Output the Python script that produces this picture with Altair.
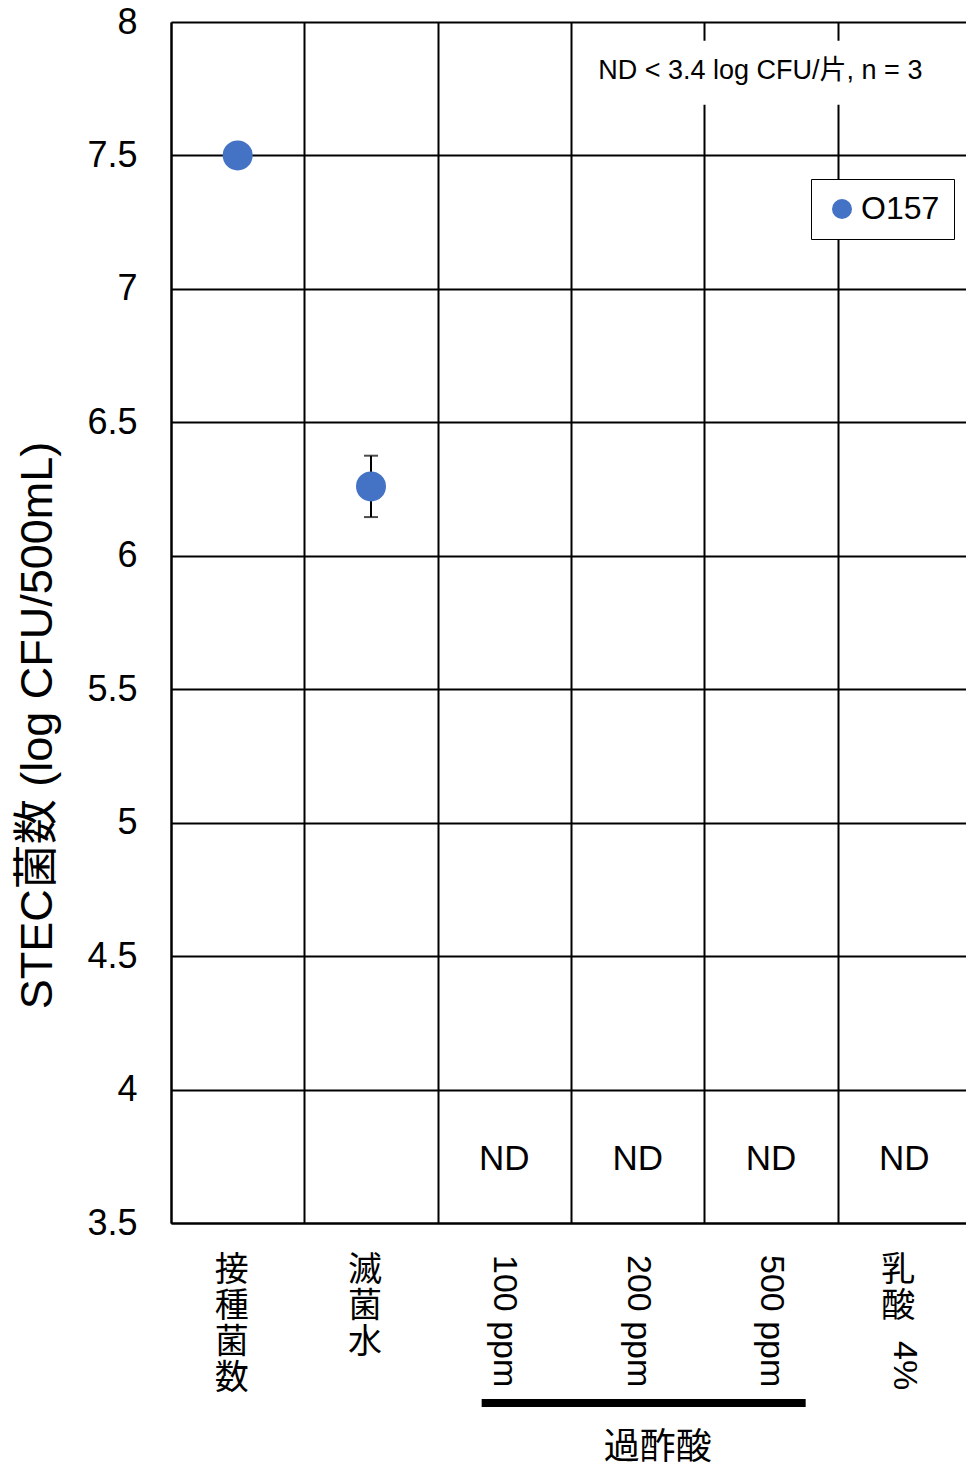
import altair as alt
import pandas as pd

FONT = "Liberation Sans, Noto Sans CJK JP"

# --- data -----------------------------------------------------------------
categories = ["接種菌数", "滅菌水", "過酢酸 100 ppm", "過酢酸 200 ppm", "過酢酸 500 ppm", "乳酸 4%"]
upright_part = ["接種菌数", "滅菌水", "", "", "", "乳酸"]      # written top-to-bottom, glyphs upright
rotated_part = ["", "", "100 ppm", "200 ppm", "500 ppm", "4%"]  # written sideways (rotated 90°)
o157_mean = [7.5, 6.26, None, None, None, None]
o157_sd = [0.0, 0.115, None, None, None, None]
not_detected = [False, False, True, True, True, True]
series_name = "O157"
nd_label_level = 3.74
group_label = "過酢酸"
group_first, group_last = 2, 4
y_ticks = [3.5, 4, 4.5, 5, 5.5, 6, 6.5, 7, 7.5, 8]
detect_note = "ND < 3.4 log CFU/片, n = 3"
y_title = "STEC菌数 (log CFU/500mL)"

# --- layout constants -------------------------------------------------------
W, H = 795, 1201
LINE = 36          # line pitch of vertically stacked glyphs
LABEL_TOP = H + 31 # top of the category labels

df = pd.DataFrame({
    "pos": [i + 0.5 for i in range(len(categories))],
    "category": categories,
    "upright": ["\n".join(s) for s in upright_part],
    "rotated": rotated_part,
    "mean": o157_mean,
    "sd": o157_sd,
    "nd": not_detected,
    "series": series_name,
})
df["lo"] = df["mean"] - df["sd"]
df["hi"] = df["mean"] + df["sd"]
df["nd_text"] = ["ND" if f else "" for f in not_detected]
df["nd_level"] = nd_label_level
df["rot_top"] = [LABEL_TOP + 1 + (len(u) * LINE + 14 if u else 0) for u in upright_part]

x_scale = alt.Scale(domain=[0, 6], range=[0, 800], nice=False, zero=False)
y_scale = alt.Scale(domain=[3.5, 8], nice=False, zero=False)

x_axis = alt.Axis(values=[0, 1, 2, 3, 4, 5], labels=False, ticks=False, title=None,
                  grid=True, gridColor="black", gridWidth=2, gridOpacity=1,
                  domain=True, domainColor="black", domainWidth=2)
y_axis = alt.Axis(values=y_ticks, format="~g", labelFontSize=36, labelFont=FONT,
                  labelColor="black", labelPadding=34, ticks=False, tickSize=0,
                  grid=True, gridColor="black", gridWidth=2, gridOpacity=1,
                  domain=True, domainColor="black", domainWidth=2,
                  title=y_title, titleFont=FONT, titleFontSize=45, titleFontWeight="normal",
                  titleColor="black", titleAngle=270, titleX=-134, titleY=703,
                  titleAlign="center", titleBaseline="middle")


def X(field="pos"):
    return alt.X(f"{field}:Q", scale=x_scale, axis=x_axis)


def Y(field):
    return alt.Y(f"{field}:Q", scale=y_scale, axis=y_axis)


base = alt.Chart(df)

# error bar: stem and caps
err = base.transform_filter("datum.sd > 0")
stem = err.mark_rule(color="black", strokeWidth=2).encode(x=X(), y=Y("lo"), y2="hi:Q")
cap_lo = err.mark_tick(color="black", orient="horizontal", size=14, thickness=2).encode(x=X(), y=Y("lo"))
cap_hi = err.mark_tick(color="black", orient="horizontal", size=14, thickness=2).encode(x=X(), y=Y("hi"))

points = base.transform_filter("isValid(datum.mean)").mark_circle(size=900, opacity=1).encode(
    x=X(), y=Y("mean"),
    color=alt.Color("series:N", scale=alt.Scale(range=["#4472C4"]),
                    legend=alt.Legend(title=None, orient="none", legendX=640, legendY=157,
                                      fillColor="white", strokeColor="black", padding=14,
                                      symbolType="circle", symbolSize=400, symbolOffset=1,
                                      symbolStrokeWidth=0, symbolOpacity=1,
                                      labelFont=FONT, labelFontSize=32, labelColor="black",
                                      labelOffset=3)),
)

nd_text = base.transform_filter("datum.nd").mark_text(
    font=FONT, fontSize=35, color="black", baseline="middle", align="center"
).encode(x=X(), y=Y("nd_level"), text="nd_text:N")

# note box at the top right
note_df = pd.DataFrame({"x": [4.42], "y": [7.815], "x0": [3.1], "x1": [5.8],
                        "y0": [7.69], "y1": [7.93], "text": [detect_note]})
note_bg = alt.Chart(note_df).mark_rect(color="white").encode(
    x=X("x0"), x2="x1:Q", y=Y("y0"), y2="y1:Q")
note_txt = alt.Chart(note_df).mark_text(
    font=FONT, fontSize=27, color="black", baseline="middle", align="center"
).encode(x=X("x"), y=Y("y"), text="text:N")

# category labels under the plot
upright_lbl = base.mark_text(
    font=FONT, fontSize=34, color="black", align="center", baseline="top",
    lineBreak="\n", lineHeight=LINE, dx=-6
).encode(x=X(), y=alt.value(LABEL_TOP), text="upright:N")
rotated_lbl = base.mark_text(
    font=FONT, fontSize=34, color="black", align="left", baseline="middle", angle=90
).encode(x=X(), y=alt.Y("rot_top:Q", scale=None), text="rotated:N")

# bracket for the peracetic-acid group
grp_df = pd.DataFrame({"x0": [group_first + 0.5 - 0.17], "x1": [group_last + 0.5 + 0.26],
                       "text": [group_label]})
grp_df["xm"] = (grp_df["x0"] + grp_df["x1"]) / 2
bracket = alt.Chart(grp_df).mark_rule(color="black", strokeWidth=8).encode(
    x=X("x0"), x2="x1:Q", y=alt.value(H + 180))
grp_txt = alt.Chart(grp_df).mark_text(
    font=FONT, fontSize=36, color="black", align="center", baseline="middle", dx=14
).encode(x=X("xm"), y=alt.value(H + 225), text="text:N")

chart = alt.layer(
    note_bg, stem, cap_lo, cap_hi, points, nd_text, note_txt,
    upright_lbl, rotated_lbl, bracket, grp_txt,
).properties(
    width=W, height=H,
    autosize=alt.AutoSizeParams(type="none"),
    padding={"left": 171, "top": 22, "right": 0, "bottom": 245},
).configure_view(strokeWidth=0).configure(background="white")

chart.save("out.html", embed_options={"renderer": "svg", "actions": False})
